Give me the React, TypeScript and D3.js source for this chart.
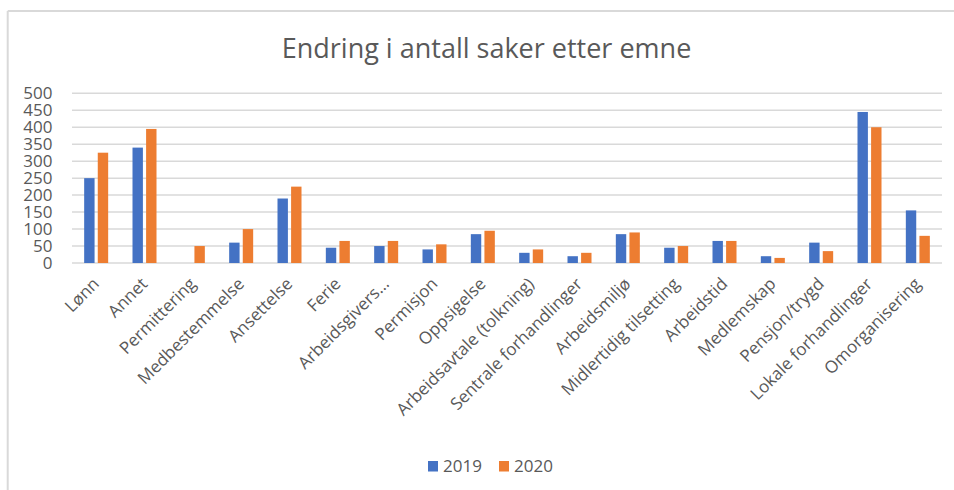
import React from "react";
import * as d3 from "d3";

const categories = [
  "Lønn", "Annet", "Permittering", "Medbestemmelse", "Ansettelse", "Ferie",
  "Arbeidsgivers…", "Permisjon", "Oppsigelse", "Arbeidsavtale (tolkning)",
  "Sentrale forhandlinger", "Arbeidsmiljø", "Midlertidig tilsetting", "Arbeidstid",
  "Medlemskap", "Pensjon/trygd", "Lokale forhandlinger", "Omorganisering",
];
const series = ["2019", "2020"];
const values2019 = [250, 340, 0, 60, 190, 45, 50, 40, 85, 30, 20, 85, 45, 65, 20, 60, 445, 155];
const values2020 = [325, 395, 50, 100, 225, 65, 65, 55, 95, 40, 30, 90, 50, 65, 15, 35, 400, 80];
const yTicks = [0, 50, 100, 150, 200, 250, 300, 350, 400, 450, 500];
const colors = ["#4472C4", "#ED7D31"];
const title = "Endring i antall saker etter emne";

export default function App() {
  const W = 954, H = 490;
  const left = 72, right = 942, top = 93.3, bottom = 263;
  const x0 = d3.scaleBand<string>().domain(categories).range([left, right]).padding(0);
  const x1 = d3.scaleBand<string>().domain(series).range([-12, 12]).paddingInner(0.235).paddingOuter(0);
  const y = d3.scaleLinear().domain([0, 500]).range([bottom, top]);
  const data = [values2019, values2020];
  const font = "'Open Sans', sans-serif";
  const gray = "#595959";

  return (
    <svg width={W} height={H} style={{ position: "absolute", left: 0, top: 0, background: "#fff" }} fontFamily={font}>
      <rect x={0} y={0} width={W} height={H} fill="#fff" />
      <line x1={7.7} x2={W} y1={11} y2={11} stroke="#d9d9d9" strokeWidth={2} />
      <line x1={7.7} x2={7.7} y1={11} y2={H} stroke="#d9d9d9" strokeWidth={2} />
      <text x={486.5} y={58.3} textAnchor="middle" fontSize={27} fill={gray}>{title}</text>
      {yTicks.map((t) => (
        <g key={t}>
          <line x1={left} x2={right} y1={y(t)} y2={y(t)} stroke="#d9d9d9" strokeWidth={1.5} />
          <text x={52.5} y={y(t)} dy="0.36em" textAnchor="end" fontSize={17} fill={gray}>{t}</text>
        </g>
      ))}
      {categories.map((c, i) => {
        const cx = (x0(c) as number) + x0.bandwidth() / 2;
        return (
          <g key={c}>
            {series.map((s, j) => {
              const v = data[j][i];
              if (!v) return null;
              return (
                <rect key={s} x={cx + (x1(s) as number)} y={y(v)} width={x1.bandwidth()} height={y(0) - y(v)} fill={colors[j]} />
              );
            })}
            <text transform={`translate(${cx + 4},285) rotate(-45)`} textAnchor="end" fontSize={17} fill={gray}>{c}</text>
          </g>
        );
      })}
      <g>
        {series.map((s, j) => {
          const lx = [428, 499][j];
          return (
            <g key={s}>
              <rect x={lx} y={461} width={10} height={10.5} fill={colors[j]} />
              <text x={lx + 15} y={471.5} fontSize={17} fill={gray}>{s}</text>
            </g>
          );
        })}
      </g>
    </svg>
  );
}
